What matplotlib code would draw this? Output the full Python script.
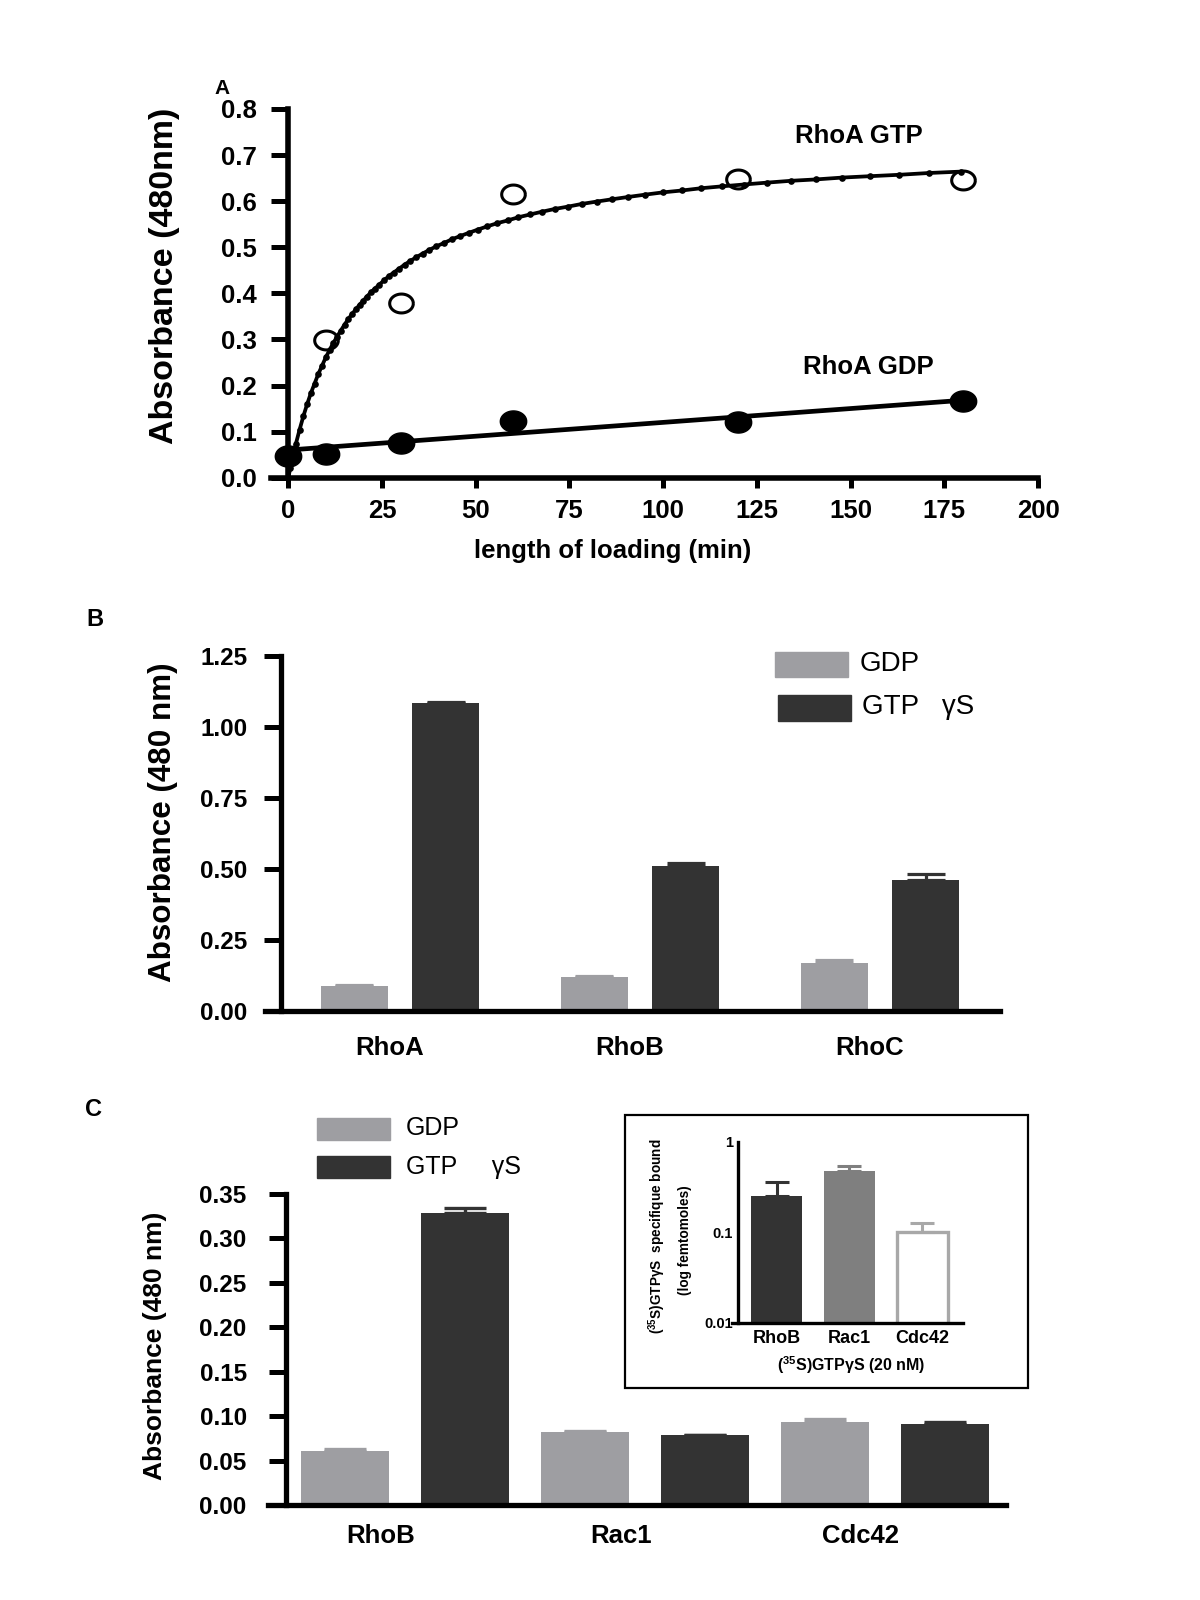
import matplotlib
matplotlib.use('Agg')
import matplotlib.pyplot as plt
from matplotlib.path import Path
from matplotlib.patches import Rectangle
from matplotlib.ticker import FormatStrFormatter, FixedLocator, NullLocator
import numpy as np

plt.rcParams['font.family'] = ['Liberation Sans', 'DejaVu Sans']
plt.rcParams['mathtext.fontset'] = 'custom'
plt.rcParams['mathtext.rm'] = 'Liberation Sans:bold'
plt.rcParams['mathtext.it'] = 'Liberation Sans:bold'
plt.rcParams['mathtext.bf'] = 'Liberation Sans:bold'
plt.rcParams['mathtext.default'] = 'rm'

# ---------------- data ----------------
# Panel A
gtp_x = [10, 30, 60, 120, 180]
gtp_y = [0.299, 0.380, 0.615, 0.648, 0.646]
gdp_x = [0, 10, 30, 60, 120, 180]
gdp_y = [0.046, 0.051, 0.075, 0.122, 0.121, 0.166]
fit_x = [0, 0.5, 1, 2, 3, 4, 5, 6, 7, 8, 9, 10, 11, 12, 13, 14, 15, 16, 17, 18,
         19, 20, 21, 22, 23.1, 24.3, 25.5, 26.8, 28.1, 29.5, 31, 32.5, 34.1,
         35.8, 37.6, 39.5, 41.5, 43.6, 45.8, 48.1, 50.5, 53, 55.7, 58.5, 61.4,
         64.5, 67.7, 71.1, 74.6, 78.4, 82.3, 86.4, 90.7, 95.2, 100, 105, 110.2,
         115.7, 121.5, 127.6, 134, 140.7, 147.7, 155.1, 162.8, 171, 179.5]
fit_y = [0.0, 0.020, 0.038, 0.073, 0.104, 0.133, 0.159, 0.183, 0.204, 0.225,
         0.243, 0.261, 0.277, 0.292, 0.306, 0.319, 0.332, 0.344, 0.355, 0.365,
         0.375, 0.384, 0.393, 0.402, 0.410, 0.419, 0.428, 0.437, 0.445, 0.453,
         0.462, 0.470, 0.478, 0.486, 0.494, 0.502, 0.509, 0.517, 0.524, 0.531,
         0.538, 0.545, 0.552, 0.558, 0.565, 0.571, 0.577, 0.583, 0.588, 0.594,
         0.599, 0.604, 0.609, 0.614, 0.619, 0.623, 0.628, 0.632, 0.636, 0.640,
         0.644, 0.647, 0.651, 0.654, 0.657, 0.661, 0.664]
gdp_fit_x = [0, 180]
gdp_fit_y = [0.060, 0.168]
a_labels = ["RhoA GTP", "RhoA GDP"]

# Panel B
b_cats = ["RhoA", "RhoB", "RhoC"]
b_gdp = [0.088, 0.118, 0.169]
b_gdp_err = [0.002, 0.003, 0.009]
b_gtp = [1.083, 0.510, 0.461]
b_gtp_err = [0.004, 0.012, 0.020]

# Panel C
c_cats = ["RhoB", "Rac1", "Cdc42"]
c_gdp = [0.061, 0.0825, 0.093]
c_gdp_err = [0.0015, 0.0012, 0.0038]
c_gtp = [0.329, 0.0788, 0.0915]
c_gtp_err = [0.005, 0.0, 0.0023]

# Inset
i_cats = ["RhoB", "Rac1", "Cdc42"]
i_vals = [0.25, 0.48, 0.10]
i_err = [0.11, 0.06, 0.026]

legend_labels_b = ["GDP", "GTP   γS"]
legend_labels_c = ["GDP", "GTP     γS"]

GRAY = '#9e9ea2'
DARK = '#333333'

W, H = 1200, 1600
fig = plt.figure(figsize=(12, 16), dpi=100)


def box(x0, y0, x1, y1):
    return [x0 / W, 1 - y1 / H, (x1 - x0) / W, (y1 - y0) / H]


def ftext(x, y, s, **kw):
    fig.text(x / W, 1 - y / H, s, **kw)


def frect(x0, y0, x1, y1, **kw):
    fig.add_artist(Rectangle((x0 / W, 1 - y1 / H), (x1 - x0) / W, (y1 - y0) / H,
                             transform=fig.transFigure, **kw))


# ellipse marker (figure is stretched horizontally)
th = np.linspace(0, 2 * np.pi, 73)
ell = Path(np.column_stack([1.25 * np.cos(th), np.sin(th)]))

# ---------------- Panel A ----------------
axA = fig.add_axes(box(270.7, 108.9, 1038, 477.7))
axA.plot(fit_x, fit_y, color='black', lw=2.7, marker='o', ms=4.8, mew=0,
         zorder=3, solid_capstyle='round')
axA.plot(gdp_fit_x, gdp_fit_y, color='black', lw=3.4, zorder=3)
axA.plot(gtp_x, gtp_y, ls='none', marker=ell, ms=17, mfc='none', mec='black',
         mew=2.2, zorder=4, clip_on=False)
axA.plot(gdp_x, gdp_y, ls='none', marker=ell, ms=19, color='black', zorder=4,
         clip_on=False)
axA.set_xlim(-4.7, 200)
axA.set_ylim(0, 0.8)
for s in ['top', 'right']:
    axA.spines[s].set_visible(False)
axA.spines['left'].set_position(('data', 0))
axA.spines['left'].set_linewidth(4)
axA.spines['bottom'].set_linewidth(4)
axA.set_xticks(np.arange(0, 201, 25))
axA.set_yticks(np.arange(0, 0.81, 0.1))
axA.yaxis.set_major_formatter(FormatStrFormatter('%.1f'))
axA.tick_params(axis='y', direction='out', length=12.5, width=3.6, pad=10,
                labelsize=18.5)
axA.tick_params(axis='x', direction='out', length=7.5, width=3.6, pad=8,
                labelsize=18.5)
for lab in axA.get_xticklabels() + axA.get_yticklabels():
    lab.set_fontweight('bold')
ftext(859, 136, a_labels[0], fontsize=18.5, fontweight='bold', ha='center', va='center')
ftext(868, 367, a_labels[1], fontsize=18.5, fontweight='bold', ha='center', va='center')
ftext(164, 276, "Absorbance (480nm)", fontsize=24.5, fontweight='bold',
      rotation=90, ha='center', va='center')
ftext(613, 551, "length of loading (min)", fontsize=18.5, fontweight='bold',
      ha='center', va='center')
ftext(222, 89, "A", fontsize=15, fontweight='bold', ha='center', va='center')

# ---------------- Panel B ----------------
axB = fig.add_axes(box(265, 656, 1000, 1010.7))
xB = np.arange(len(b_cats))
axB.bar(xB - 0.19, b_gdp, 0.278, color=GRAY, zorder=1,
        yerr=[np.zeros(3), b_gdp_err], capsize=14,
        error_kw=dict(ecolor=GRAY, elinewidth=2.3, capthick=2.3))
axB.bar(xB + 0.19, b_gtp, 0.278, color=DARK, zorder=1,
        yerr=[np.zeros(3), b_gtp_err], capsize=14,
        error_kw=dict(ecolor=DARK, elinewidth=2.3, capthick=2.3))
axB.set_xlim(-0.5625, 2.5)
axB.set_ylim(0, 1.25)
for s in ['top', 'right']:
    axB.spines[s].set_visible(False)
axB.spines['left'].set_position(('data', -0.495))
axB.spines['left'].set_linewidth(3.8)
axB.spines['bottom'].set_linewidth(3.8)
axB.set_yticks(np.arange(0, 1.26, 0.25))
axB.yaxis.set_major_formatter(FormatStrFormatter('%.2f'))
axB.set_xticks(xB - 0.045)
axB.set_xticklabels(b_cats)
axB.tick_params(axis='y', direction='out', length=12, width=3.6, pad=12.5,
                labelsize=17.5)
axB.tick_params(axis='x', length=0, pad=18.5, labelsize=18.5)
for lab in axB.get_xticklabels() + axB.get_yticklabels():
    lab.set_fontweight('bold')
ftext(163, 822, "Absorbance (480 nm)", fontsize=22.6, fontweight='bold',
      rotation=90, ha='center', va='center')
ftext(95, 619, "B", fontsize=17, fontweight='bold', ha='center', va='center')
frect(775, 652, 848, 677, color=GRAY)
frect(778, 694.5, 851, 720.5, color=DARK)
ftext(860, 664, legend_labels_b[0], fontsize=20, ha='left', va='center')
ftext(862, 707.5, legend_labels_b[1], fontsize=20, ha='left', va='center')

# ---------------- Panel C ----------------
axC = fig.add_axes(box(268, 1194, 1006, 1505))
xC = np.arange(len(c_cats))
axC.bar(xC - 0.25, c_gdp, 0.367, color=GRAY, zorder=1,
        yerr=[np.zeros(3), c_gdp_err], capsize=15,
        error_kw=dict(ecolor=GRAY, elinewidth=2.4, capthick=2.4))
axC.bar(xC + 0.25, c_gtp, 0.367, color=DARK, zorder=1,
        yerr=[np.zeros(3), c_gtp_err], capsize=15,
        error_kw=dict(ecolor=DARK, elinewidth=2.4, capthick=2.4))
axC.set_xlim(-0.57, 2.505)
axC.set_ylim(0, 0.35)
for s in ['top', 'right']:
    axC.spines[s].set_visible(False)
axC.spines['left'].set_position(('data', -0.497))
axC.spines['left'].set_linewidth(3.8)
axC.spines['bottom'].set_linewidth(3.8)
axC.set_yticks(np.arange(0, 0.351, 0.05))
axC.yaxis.set_major_formatter(FormatStrFormatter('%.2f'))
axC.set_xticks(xC - 0.1)
axC.set_xticklabels(c_cats)
axC.tick_params(axis='y', direction='out', length=12.5, width=3.6, pad=15.5,
                labelsize=17.5)
axC.tick_params(axis='x', length=0, pad=14, labelsize=18.5)
for lab in axC.get_xticklabels() + axC.get_yticklabels():
    lab.set_fontweight('bold')
ftext(155, 1346, "Absorbance (480 nm)", fontsize=19, fontweight='bold',
      rotation=90, ha='center', va='center')
ftext(94, 1110, "C", fontsize=17, fontweight='bold', ha='center', va='center')
frect(317, 1118, 390, 1140, color=GRAY)
frect(317, 1156, 390, 1178, color=DARK)
ftext(406, 1128, legend_labels_c[0], fontsize=18, ha='left', va='center')
ftext(406, 1167, legend_labels_c[1], fontsize=18, ha='left', va='center')

# ---------------- Inset ----------------
frect(625, 1115, 1028, 1388.3, fill=False, ec='black', lw=1.6)
axI = fig.add_axes(box(731.7, 1141.7, 962.7, 1322.7))
xI = np.arange(len(i_cats))
i_face = [DARK, '#7f7f7f', 'white']
i_edge = [DARK, '#7f7f7f', '#a8a8a8']
for i in range(3):
    axI.bar(xI[i], i_vals[i], 0.71, color=i_face[i], edgecolor=i_edge[i],
            linewidth=2.4 if i == 2 else 0, zorder=1,
            yerr=[[0], [i_err[i]]], capsize=8.5,
            error_kw=dict(ecolor=i_edge[i], elinewidth=2.2, capthick=2.2))
axI.set_yscale('log')
axI.set_ylim(0.01, 1)
axI.set_xlim(-0.614, 2.551)
for s in ['top', 'right']:
    axI.spines[s].set_visible(False)
axI.spines['left'].set_position(('data', -0.523))
axI.spines['left'].set_linewidth(2.4)
axI.spines['bottom'].set_linewidth(2.4)
axI.yaxis.set_major_locator(FixedLocator([0.01, 0.1, 1]))
axI.yaxis.set_minor_locator(NullLocator())
axI.set_yticklabels(["0.01", "0.1", "1"])
axI.set_xticks(xI)
axI.set_xticklabels(i_cats)
axI.tick_params(axis='y', which='both', length=0, pad=4, labelsize=10.5)
axI.tick_params(axis='x', length=0, pad=5.5, labelsize=13)
for lab in axI.get_xticklabels() + axI.get_yticklabels():
    lab.set_fontweight('bold')
ftext(851, 1365, r"($^{35}$S)GTPγS (20 nM)", fontsize=11.5, fontweight='bold',
      ha='center', va='center')
ftext(657, 1236, r"($^{35}$S)GTPγS  specifique bound", fontsize=9.8,
      fontweight='bold', rotation=90, ha='center', va='center')
ftext(685, 1240, "(log femtomoles)", fontsize=9.8, fontweight='bold',
      rotation=90, ha='center', va='center')

fig.savefig('out.png', dpi=100, facecolor='white')
